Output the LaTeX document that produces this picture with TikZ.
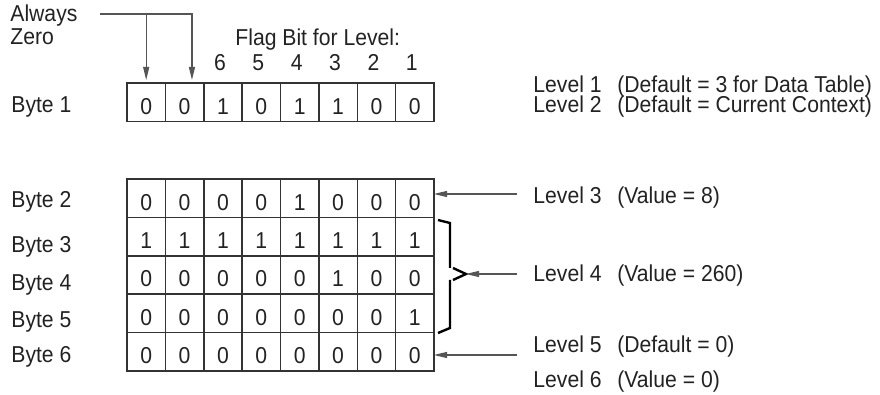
\documentclass[tikz,border=0pt]{standalone}
\usepackage{fontspec}
\setmainfont{Liberation Sans}[FakeStretch=0.92]
\usepackage{tikz}
\usetikzlibrary{arrows.meta}
\definecolor{gridgray}{HTML}{333333}
\definecolor{arrowgray}{HTML}{555555}
\definecolor{textgray}{HTML}{222222}

\tikzset{
  cell/.style={draw=gridgray, line width=0.75pt, minimum width=19.19pt, minimum height=19.2pt,
               inner sep=0pt, outer sep=0pt, text height=12pt, text depth=0pt, anchor=north west},
  plainlabel/.style={anchor=base west, inner sep=0pt},
  pointer/.style={draw=arrowgray, line width=0.6pt, -{Triangle[length=6.5pt,width=3pt]}},
  bracket/.style={draw=black, line width=1.2pt},
}

\begin{document}
\begin{tikzpicture}[x=0.5pt, y=-0.5pt, font=\fontsize{11.5}{13}\selectfont, text=textgray]
    \useasboundingbox (0,0) rectangle (880,395);

    % byte 1 with the flag bits
    \foreach \bit [count=\i] in {0,0,1,0,1,1,0,0}
      \node[cell] (b1-\i) at ({127+38.375*(\i-1)},83) {\bit};

    % bytes 2 to 6
    \foreach \r/\bits in {2/{0,0,0,0,1,0,0,0}, 3/{1,1,1,1,1,1,1,1}, 4/{0,0,0,0,0,1,0,0},
                          5/{0,0,0,0,0,0,0,1}, 6/{0,0,0,0,0,0,0,0}}
      \foreach \bit [count=\i] in \bits
        \node[cell] (b\r-\i) at ({127+38.375*(\i-1)},{179+38.4*(\r-2)}) {\bit};

    \foreach \r/\yb in {1/113, 2/208, 3/253, 4/291, 5/328, 6/363}
      \node[plainlabel] (byte\r) at (11,\yb) {Byte \r};

    \node[plainlabel] (always) at (10,22) {Always};
    \node[plainlabel] (zero) at (10,45) {Zero};
    \node[plainlabel] (flag) at (235,46) {Flag Bit for Level:};
    \foreach \lev [count=\i from 3] in {6,5,4,3,2,1}
      \node[anchor=base, inner sep=0pt] (flag\lev) at ({127+38.375*(\i-0.5)-3},71) {\lev};

    % always zero pointers
    \coordinate (zerotail) at (100,14);
    \draw[pointer] (zerotail) -| ([xshift=3.7pt,yshift=1.5pt]b1-2.north);
    \draw[pointer] (b1-1.north |- zerotail) -- ([yshift=1.5pt]b1-1.north);

    % level descriptions
    \foreach \n/\yb/\txt in {1/93/{(Default = 3 for Data Table)}, 2/113/{(Default = Current Context)},
                             3/204/{(Value = 8)}, 4/282/{(Value = 260)},
                             5/353/{(Default = 0)}, 6/388/{(Value = 0)}}
      \node[plainlabel] (level\n) at (533,\yb) {\makebox[42pt][l]{Level \n}\txt};

    % bracket over bytes 3 to 5
    \coordinate (bracetip) at (466,274);
    \draw[bracket] (438,220) -- (450,223) -- (450,268);
    \draw[bracket] (453,268) -- (bracetip) -- (453,280);
    \draw[bracket] (450,280) -- (450,328) -- (438,333);

    \coordinate (tail3) at (517,194);
    \coordinate (tail4) at (517,274);
    \coordinate (tail5) at (517,355);
    \draw[pointer] (tail3) -- (tail3 -| b2-8.east);
    \draw[pointer] (tail4) -- (bracetip);
    \draw[pointer] (tail5) -- (tail5 -| b6-8.east);
\end{tikzpicture}
\end{document}
